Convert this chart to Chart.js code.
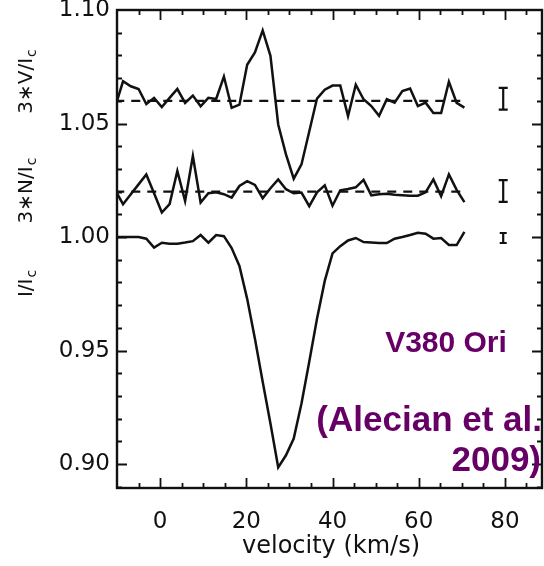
<!DOCTYPE html>
<html>
<head>
<meta charset="utf-8">
<script src="https://cdn.jsdelivr.net/npm/chart.js@4.4.1/dist/chart.umd.min.js"></script>
<style>
    html, body { margin: 0; padding: 0; background: #fff; }
    #wrap { width: 544px; height: 566px; position: relative; }
</style>
</head>
<body>
<div id="wrap"><canvas id="chart" width="544" height="566"></canvas></div>
<script>
// ===== Profile data =====
const velocity = [
    -10.4, -8.6, -6.8, -5.0, -3.2, -1.4, 0.4, 2.2, 4.0, 5.8,
    7.6, 9.4, 11.2, 13.0, 14.8, 16.6, 18.4, 20.2, 22.0, 23.8,
    25.6, 27.4, 29.2, 31.0, 32.8, 34.6, 36.4, 38.2, 40.0, 41.8,
    43.6, 45.4, 47.2, 49.0, 50.8, 52.6, 54.4, 56.2, 58.0, 59.8,
    61.6, 63.4, 65.2, 67.0, 68.8, 70.6
];

// 3*V/Ic, shifted to 1.06
const stokesV = [
    1.0575, 1.0686, 1.0664, 1.0652, 1.0586, 1.0613, 1.0573, 1.0613, 1.0652, 1.0591,
    1.0623, 1.0576, 1.0613, 1.0608, 1.0707, 1.0569, 1.0583, 1.0759, 1.0813, 1.0910,
    1.0798, 1.0496, 1.0364, 1.0257, 1.0320, 1.0465, 1.0610, 1.0649, 1.0667, 1.0667,
    1.0533, 1.0671, 1.0607, 1.0577, 1.0534, 1.0607, 1.0592, 1.0643, 1.0654, 1.0577,
    1.0592, 1.0546, 1.0546, 1.0684, 1.0591, 1.0570
];

// 3*N/Ic, shifted to 1.02
const nullN = [
    1.0206, 1.0145, 1.0189, 1.0232, 1.0276, 1.0193, 1.0108, 1.0145, 1.0291, 1.0159,
    1.0357, 1.0152, 1.0193, 1.0197, 1.0189, 1.0174, 1.0225, 1.0246, 1.0230, 1.0171,
    1.0215, 1.0254, 1.0211, 1.0193, 1.0196, 1.0136, 1.0197, 1.0228, 1.0138, 1.0206,
    1.0212, 1.0219, 1.0252, 1.0184, 1.0189, 1.0191, 1.0186, 1.0184, 1.0182, 1.0182,
    1.0197, 1.0254, 1.0180, 1.0276, 1.0208, 1.0154
];

// I/Ic
const intensity = [
    1.0000, 1.0000, 1.0000, 1.0000, 0.9993, 0.9954, 0.9975, 0.9971, 0.9971, 0.9976,
    0.9982, 1.0009, 0.9975, 1.0009, 1.0004, 0.9952, 0.9873, 0.9728, 0.9552, 0.9363,
    0.9179, 0.8986, 0.9039, 0.9113, 0.9267, 0.9451, 0.9640, 0.9807, 0.9928, 0.9960,
    0.9985, 0.9996, 0.9978, 0.9976, 0.9974, 0.9974, 0.9993, 1.0000, 1.0009, 1.0019,
    1.0015, 0.9993, 0.9996, 0.9965, 0.9965, 1.0023
];

// dashed zero levels
const refEnds = [-10.4, 70.6];
const vZero = 1.06;
const nZero = 1.02;

// error bars on the right
const errX = 79.6;
const errCenter = [1.0609, 1.0203, 0.9996];
const errHalf = [0.0048, 0.0048, 0.0022];

// axes
const xTicks = [0, 20, 40, 60, 80];
const yTicks = [0.90, 0.95, 1.00, 1.05, 1.10];
const xRange = [-10, 88.6];
const yRange = [0.8895, 1.10];

const ink = '#111';
const purple = '#660066';

function toPoints(xs, ys) {
    return xs.map((v, i) => ({ x: v, y: ys[i] }));
}

// ===== IDL-like frame, inward ticks, labels =====
const framePlugin = {
    id: 'frame',
    afterDraw(chart) {
        const { ctx, chartArea: a, scales: { x, y } } = chart;
        ctx.save();
        ctx.strokeStyle = ink;
        ctx.lineWidth = 2.4;
        ctx.strokeRect(a.left, a.top, a.right - a.left, a.bottom - a.top);

        ctx.lineWidth = 1.8;
        ctx.beginPath();
        // x ticks every 5, major every 20
        for (let k = -2; k <= 18; k++) {
            const v = k * 5;
            if (v <= x.min + 0.01 || v >= x.max - 0.01) continue;
            const px = Math.round(x.getPixelForValue(v)) + 0.5;
            const len = v % 20 === 0 ? 10 : 5;
            ctx.moveTo(px, a.bottom); ctx.lineTo(px, a.bottom - len);
            ctx.moveTo(px, a.top); ctx.lineTo(px, a.top + len);
        }
        // y ticks every 0.01, major every 0.05
        for (let k = 88; k <= 111; k++) {
            const v = k / 100;
            if (v <= y.min + 1e-4 || v >= y.max - 1e-4) continue;
            const py = Math.round(y.getPixelForValue(v)) + 0.5;
            const len = k % 5 === 0 ? 10 : 5;
            ctx.moveTo(a.left, py); ctx.lineTo(a.left + len, py);
            ctx.moveTo(a.right, py); ctx.lineTo(a.right - len, py);
        }
        ctx.stroke();

        // error bars
        ctx.lineWidth = 2.2;
        const caps = [9, 9, 7];
        errCenter.forEach((c, i) => {
            const px = x.getPixelForValue(errX);
            const top = y.getPixelForValue(c + errHalf[i]);
            const bot = y.getPixelForValue(c - errHalf[i]);
            const hw = caps[i] / 2;
            ctx.beginPath();
            ctx.moveTo(px, top); ctx.lineTo(px, bot);
            ctx.moveTo(px - hw, top); ctx.lineTo(px + hw, top);
            ctx.moveTo(px - hw, bot); ctx.lineTo(px + hw, bot);
            ctx.stroke();
        });

        // rotated y labels with subscript c
        ctx.fillStyle = ink;
        drawSubLabel(ctx, '3\u2217V/I', 'c', 27, 82);
        drawSubLabel(ctx, '3\u2217N/I', 'c', 27, 191);
        drawSubLabel(ctx, 'I/I', 'c', 27, 284);

        // x title
        ctx.font = '24px "DejaVu Sans"';
        ctx.textAlign = 'center';
        ctx.textBaseline = 'middle';
        ctx.fillText('velocity (km/s)', 331, 547);

        // annotation
        ctx.fillStyle = purple;
        ctx.font = 'bold 30px "Liberation Sans"';
        ctx.textAlign = 'center';
        ctx.fillText('V380 Ori', 446, 344);
        ctx.font = 'bold 35px "Liberation Sans"';
        ctx.textAlign = 'right';
        ctx.fillText('(Alecian et al.', 542, 421);
        ctx.fillText('2009)', 541, 461);
        ctx.restore();
    }
};

function drawSubLabel(ctx, main, sub, cx, cy) {
    ctx.save();
    ctx.translate(cx, cy);
    ctx.rotate(-Math.PI / 2);
    ctx.textBaseline = 'middle';
    ctx.textAlign = 'left';
    ctx.font = '20px "DejaVu Sans"';
    const w1 = ctx.measureText(main).width;
    ctx.font = '14px "DejaVu Sans"';
    const w2 = ctx.measureText(sub).width;
    const x0 = -(w1 + w2) / 2;
    ctx.font = '20px "DejaVu Sans"';
    ctx.fillText(main, x0, 0);
    ctx.font = '14px "DejaVu Sans"';
    ctx.fillText(sub, x0 + w1 + 1, 5);
    ctx.restore();
}

// ===== Chart =====
const lineStyle = {
    borderColor: ink,
    borderWidth: 2.5,
    pointRadius: 0,
    tension: 0,
    fill: false
};

const ctx = document.getElementById('chart').getContext('2d');
new Chart(ctx, {
    type: 'line',
    data: {
        datasets: [
            { ...lineStyle, label: 'V', data: toPoints(velocity, stokesV) },
            { ...lineStyle, label: 'N', data: toPoints(velocity, nullN) },
            { ...lineStyle, label: 'I', data: toPoints(velocity, intensity) },
            { ...lineStyle, label: 'V0', borderWidth: 2.2, borderDash: [9, 7], data: toPoints(refEnds, [vZero, vZero]) },
            { ...lineStyle, label: 'N0', borderWidth: 2.2, borderDash: [9, 7], data: toPoints(refEnds, [nZero, nZero]) }
        ]
    },
    options: {
        responsive: false,
        animation: false,
        devicePixelRatio: 1,
        layout: { padding: { top: 10, right: 2, left: 0, bottom: 0 } },
        plugins: {
            legend: { display: false },
            tooltip: { enabled: false }
        },
        scales: {
            x: {
                type: 'linear',
                min: xRange[0],
                max: xRange[1],
                grid: { display: false, drawTicks: false },
                border: { display: false },
                afterBuildTicks: s => { s.ticks = xTicks.map(v => ({ value: v })); },
                afterFit: s => { s.height = 78; s.paddingLeft = 0; s.paddingRight = 0; },
                ticks: {
                    color: ink,
                    font: { family: 'DejaVu Sans', size: 23 },
                    padding: 20,
                    maxRotation: 0,
                    autoSkip: false,
                    callback: v => String(v)
                }
            },
            y: {
                type: 'linear',
                min: yRange[0],
                max: yRange[1],
                grid: { display: false, drawTicks: false },
                border: { display: false },
                afterBuildTicks: s => { s.ticks = yTicks.map(v => ({ value: v })); },
                afterFit: s => { s.width = 117; s.paddingTop = 0; s.paddingBottom = 0; },
                ticks: {
                    color: ink,
                    font: { family: 'DejaVu Sans', size: 23 },
                    padding: 7,
                    autoSkip: false,
                    callback: v => v.toFixed(2)
                }
            }
        }
    },
    plugins: [framePlugin]
});
</script>
</body>
</html>
